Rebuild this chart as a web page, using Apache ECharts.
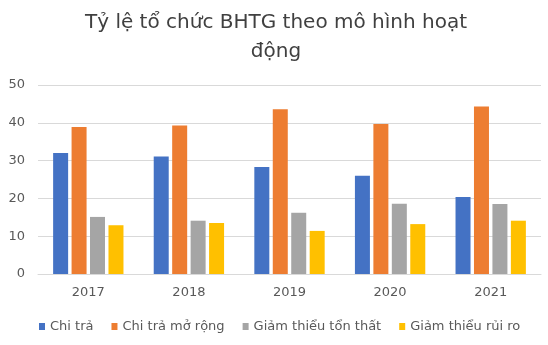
<!DOCTYPE html>
<html><head><meta charset="utf-8">
<script src="https://cdn.jsdelivr.net/npm/echarts@6/dist/echarts.min.js"></script>
<style>html,body{margin:0;padding:0;background:#fff}#c{width:548px;height:345px}</style>
</head><body><div id="c"></div>
<script>
const categories = ['2017','2018','2019','2020','2021'];
const seriesNames = ['Chi trả','Chi trả mở rộng','Giảm thiểu tổn thất','Giảm thiểu rủi ro'];
const chiTra = [32.0, 31.1, 28.3, 26.0, 20.4];
const chiTraMoRong = [38.9, 39.3, 43.6, 39.7, 44.3];
const giamThieuTonThat = [15.1, 14.1, 16.2, 18.6, 18.5];
const giamThieuRuiRo = [12.9, 13.5, 11.4, 13.2, 14.1];
const yTicks = [0, 10, 20, 30, 40, 50];
const colors = ['#4472C4','#ED7D31','#A5A5A5','#FFC000'];
const values = [chiTra, chiTraMoRong, giamThieuTonThat, giamThieuRuiRo];
const FONT = 'DejaVu Sans';

const chart = echarts.init(document.getElementById('c'));
chart.setOption({
  animation: false,
  title: {
    text: 'Tỷ lệ tổ chức BHTG theo mô hình hoạt\nđộng',
    left: 276, top: 8, textAlign: 'center', padding: 0,
    textStyle: {fontFamily: FONT, fontSize: 20, fontWeight: 'normal', color: '#404040', lineHeight: 29}
  },
  legend: {
    data: seriesNames, top: 320, left: 39, padding: 0,
    icon: 'rect', itemWidth: 6, itemHeight: 7, itemGap: 18,
    textStyle: {fontFamily: FONT, fontSize: 13, color: '#595959', padding: [0,0,0,0]}
  },
  grid: {left: 38, right: 7, top: 85, bottom: 71, containLabel: false},
  xAxis: {
    type: 'category', data: categories,
    axisLine: {lineStyle: {color: '#d9d9d9'}}, axisTick: {show: false},
    axisLabel: {fontFamily: FONT, fontSize: 13, color: '#595959', margin: 12}
  },
  yAxis: {
    type: 'value', min: yTicks[0], max: yTicks[yTicks.length-1], interval: 10,
    axisLine: {show: false}, axisTick: {show: false},
    splitLine: {lineStyle: {color: '#d9d9d9'}},
    axisLabel: {fontFamily: FONT, fontSize: 13, color: '#595959', margin: 13}
  },
  series: seriesNames.map((n, i) => ({
    name: n, type: 'bar', data: values[i], barWidth: 15, barGap: '23%',
    itemStyle: {color: colors[i]}
  }))
});
</script></body></html>
